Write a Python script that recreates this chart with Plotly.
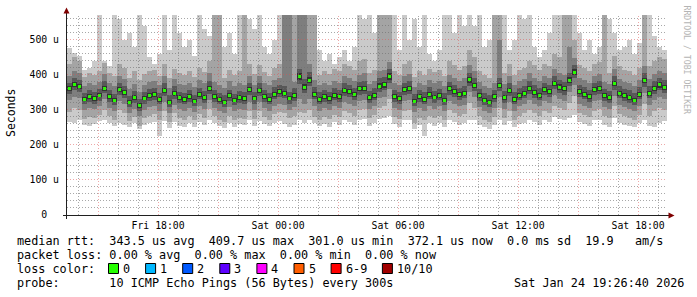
import math
import pandas as pd
import plotly.graph_objects as go

# ---------------- data (values in microseconds) ----------------
start = pd.Timestamp("2026-01-23 13:26:40")
end = pd.Timestamp("2026-01-24 19:26:40")
step = pd.Timedelta(minutes=15)

median = [360,372,368,330,338,333,342,362,338,328, 358,350,322,335,312,333,340,344,330,356,
          322,348,335,330,338,325,345,335,362,338, 330,322,340,328,335,332,358,333,356,338,
          330,345,352,348,333,340,395,365,385,345, 330,338,332,342,338,356,352,343,360,362,
          335,342,368,372,395,338,332,358,362,325, 338,330,345,336,342,328,360,352,343,348,
          386,370,340,328,322,338,370,335,355,330, 342,348,362,350,342,358,352,376,365,360,
          385,408,352,345,338,358,362,340,335,375, 348,340,336,328,345,384,348,362,372,365]

ping1 = [265,262,270,258,255,260,268,272,262,255, 262,258,250,262,245,258,262,266,225,268,
         248,265,255,252,262,250,265,256,270,262, 255,248,262,252,260,256,270,255,268,260,
         255,264,268,260,250,258,270,262,272,262, 255,260,252,265,258,270,266,258,272,275,
         255,262,275,278,282,260,252,270,272,245, 258,226,262,255,262,250,272,266,258,262,
         272,270,258,250,245,258,272,256,268,252, 260,264,272,265,258,270,266,280,275,272,
         278,285,266,260,255,270,272,258,252,278, 262,258,255,250,262,270,255,250,262,268]
ping2 = [295,305,300,275,280,276,285,300,282,272, 300,292,268,280,255,276,284,288,272,298,
         265,290,278,272,282,270,288,278,302,282, 272,265,282,270,278,275,298,275,296,280,
         272,288,294,290,276,282,295,290,300,280, 272,280,275,285,280,296,292,284,300,302,
         278,285,305,310,330,280,275,298,300,262, 278,270,282,276,282,270,300,292,284,288,
         320,305,282,270,265,280,305,276,296,272, 284,290,300,290,282,298,292,312,305,300,
         320,340,292,286,280,298,302,282,276,312, 288,282,278,270,285,318,282,298,305,300]
ping3 = [328,338,335,300,305,302,310,330,306,298, 325,318,292,303,282,300,308,312,296,322,
         290,315,303,298,305,294,312,302,328,306, 298,290,308,296,302,300,324,300,322,305,
         298,312,318,315,300,308,330,318,330,312, 298,306,300,310,305,322,318,310,326,328,
         302,310,334,338,360,305,300,325,328,294, 305,298,312,302,310,296,326,318,310,315,
         350,336,308,296,290,305,336,302,322,298, 310,316,328,318,310,325,320,342,332,326,
         350,372,318,312,305,325,328,308,302,340, 315,308,302,296,312,348,315,328,338,332]
ping4 = [345,356,352,316,322,318,326,347,323,313, 342,334,308,320,298,318,325,328,316,340,
         308,332,320,316,323,311,330,320,345,323, 316,309,325,314,320,318,342,318,340,324,
         316,330,336,333,318,325,374,348,368,330, 316,324,318,327,323,340,337,328,344,346,
         320,327,352,356,378,323,318,342,346,311, 323,316,330,321,327,314,344,337,328,333,
         369,354,325,314,308,323,354,320,340,316, 327,333,346,335,327,342,337,360,349,344,
         368,390,337,330,323,342,346,325,320,358, 333,325,321,314,330,366,333,346,356,349]
ping5 = [353,366,360,325,331,326,336,355,332,322, 351,344,316,329,306,327,333,338,323,349,
         316,341,329,324,331,319,338,329,355,331, 324,316,333,322,329,325,351,327,349,331,
         324,338,345,341,327,333,386,357,376,338, 324,331,326,335,331,349,345,337,353,355,
         329,335,360,364,386,331,326,351,355,319, 331,324,338,330,335,322,353,345,337,341,
         377,362,333,322,316,331,362,329,348,324, 335,341,355,343,335,351,345,368,357,353,
         376,399,345,338,331,351,355,333,329,367, 341,333,329,322,338,376,341,355,364,358]
ping6 = [367,379,375,337,345,340,349,369,345,335, 365,357,329,342,319,340,347,351,337,363,
         329,355,342,337,345,332,352,342,369,345, 337,329,347,335,342,339,365,340,363,345,
         337,352,359,355,340,347,404,373,394,352, 337,345,339,349,345,363,359,350,367,369,
         342,349,376,380,404,345,339,365,369,332, 345,337,352,343,349,335,367,359,350,355,
         395,378,347,335,329,345,378,342,362,337, 349,355,369,357,349,365,359,384,373,367,
         394,417,359,352,345,365,369,347,342,383, 355,347,343,335,352,392,355,369,380,372]
ping7 = [378,392,386,348,356,352,360,382,356,346, 378,368,340,353,332,351,360,362,348,376,
         342,367,352,349,356,344,364,354,382,357, 348,342,358,346,355,351,378,352,376,356,
         349,365,372,368,352,362,418,388,408,365, 350,356,352,362,357,376,372,362,380,384,
         355,362,390,395,418,357,351,378,382,345, 357,350,365,355,361,347,381,372,362,368,
         406,392,360,347,342,357,392,354,376,350, 362,368,382,370,362,378,372,398,386,380,
         406,428,372,365,357,378,382,360,355,396, 368,360,356,348,365,405,368,382,392,386]
ping8 = [398,410,405,368,376,372,380,402,376,368, 398,388,360,375,352,372,380,384,370,396,
         362,388,375,372,378,365,386,376,404,380, 372,362,382,368,376,372,398,372,396,378,
         370,386,392,600,600,380,600,600,430,386, 370,378,372,384,378,396,392,382,400,404,
         375,382,410,414,436,378,372,398,402,366, 378,370,386,376,382,368,400,392,382,390,
         428,410,380,368,362,378,500,375,396,370, 382,388,404,390,382,398,392,418,406,400,
         480,448,392,385,378,398,402,380,375,416, 388,380,376,368,385,424,388,402,412,405]
ping9 = [430,450,440,395,405,400,412,435,405,398, 430,420,392,410,385,402,412,415,398,430,
         392,418,405,400,410,395,420,408,440,600, 600,392,415,400,410,600,432,402,428,408,
         398,420,430,600,600,600,600,600,600,600, 400,410,402,418,410,430,425,415,440,445,
         405,415,600,600,600,410,400,430,440,395, 410,400,418,408,415,398,440,428,415,425,
         470,450,410,400,392,600,600,405,430,400, 415,420,440,428,415,432,425,460,450,600,
         600,500,428,420,410,432,438,600,405,455, 425,415,410,400,420,600,425,440,452,445]
ping10 = [477,463,455,415,420,440,600,440,425,600, 560,500,520,480,600,540,450,430,460,600,
          470,600,520,480,500,455,600,530,510,600, 600,480,520,460,600,600,560,530,600,480,
          460,500,600,600,600,600,600,600,600,600, 470,440,460,430,450,470,440,480,600,560,
          600,520,600,600,600,600,470,600,500,560, 480,600,460,440,470,600,600,520,600,540,
          600,540,600,480,500,600,600,600,470,500, 600,560,600,480,450,470,520,600,600,600,
          600,600,520,470,500,460,480,600,560,520, 470,480,500,460,490,600,600,510,480,470]

x_tick_vals = ["2026-01-23 18:00", "2026-01-24 00:00", "2026-01-24 06:00",
               "2026-01-24 12:00", "2026-01-24 18:00"]
x_tick_text = ["Fri 18:00", "Sat 00:00", "Sat 06:00", "Sat 12:00", "Sat 18:00"]
y_tick_vals = [0, 100, 200, 300, 400, 500]
y_tick_text = ["0\u00a0\u00a0", "100\u00a0u", "200\u00a0u", "300\u00a0u", "400\u00a0u", "500\u00a0u"]

median_rtt = ["343.5 us avg", "409.7 us max", "301.0 us min", "372.1 us now", "0.0 ms sd", "19.9   am/s"]
packet_loss = ["0.00 % avg", "0.00 % max", "0.00 % min", "0.00 % now"]
loss_labels = ["0", "1", "2", "3", "4", "5", "6-9", "10/10"]
loss_colors = ["#26ff00", "#00b8ff", "#0059ff", "#5e00ff", "#ff00ff", "#ff5e00", "#ff0000", "#a10000"]
probe_text = "10 ICMP Echo Pings (56 Bytes) every 300s"
stamp_text = "Sat Jan 24 19:26:40 2026"

# ---------------- geometry ----------------
W, H = 697, 297
L, R, T, B = 67, 667, 15, 215
Y_MAX = 571.0
MONO = "DejaVu Sans Mono"
MINOR = "rgba(110,110,110,0.6)"
MAJOR = "rgba(222,81,81,0.5)"

def px_x(px):
    return (px - L) / (R - L)

def px_y(py):
    return (B - py) / (B - T)

def t_to_px(t):
    return L + (t - start) / (end - start) * (R - L)

def v_to_py(v):
    return B - v / Y_MAX * (B - T)

n = len(median)
step_ms = step / pd.Timedelta(milliseconds=1)
centers = [start + step * (i + 0.5) for i in range(n)]

fig = go.Figure()
bands = [(ping1, ping10, "#cacaca"), (ping2, ping9, "#a4a4a4"), (ping3, ping8, "#7e7e7e"),
         (ping4, ping7, "#585858"), (ping5, ping6, "#323232")]
for lo, hi, col in bands:
    fig.add_trace(go.Bar(x=centers, y=[h - l for l, h in zip(lo, hi)], base=lo,
                         width=step_ms, marker=dict(color=col, line=dict(width=0)),
                         hoverinfo="skip", showlegend=False))
fig.add_trace(go.Bar(x=centers, y=[8.6] * n, base=[m - 4.3 for m in median],
                     width=step_ms * 0.6, marker=dict(color=loss_colors[0], line=dict(width=0)),
                     hoverinfo="skip", showlegend=False))

shapes = []
# grid (drawn above the smoke, like rrdtool)
hours = pd.date_range(start.ceil("h"), end, freq="h")
for h in hours:
    if h >= end:
        continue
    px = math.floor(t_to_px(h)) + 0.5
    major = h.hour % 3 == 0
    shapes.append(dict(type="line", xref="paper", yref="paper", x0=px_x(px), x1=px_x(px),
                       y0=px_y(215), y1=px_y(15),
                       line=dict(color=MAJOR if major else MINOR, width=1, dash="1px,2px"), layer="above"))
for v in range(20, int(Y_MAX), 20):
    py = math.floor(v_to_py(v)) + 0.5
    major = v % 100 == 0
    shapes.append(dict(type="line", xref="paper", yref="paper", x0=0, x1=1, y0=px_y(py), y1=px_y(py),
                       line=dict(color=MAJOR if major else MINOR, width=1, dash="1px,2px"), layer="above"))
# axes and arrows
shapes.append(dict(type="line", xref="paper", yref="paper", x0=px_x(63), x1=px_x(670),
                   y0=px_y(215.5), y1=px_y(215.5), line=dict(color="#202020", width=1), layer="above"))
shapes.append(dict(type="line", xref="paper", yref="paper", x0=px_x(66.5), x1=px_x(66.5),
                   y0=px_y(219), y1=px_y(12), line=dict(color="#202020", width=1), layer="above"))
def tri(pts):
    return "M " + " L ".join(f"{px_x(a)},{px_y(b)}" for a, b in pts) + " Z"
shapes.append(dict(type="path", xref="paper", yref="paper", path=tri([(63.5, 13.5), (69.5, 13.5), (66.5, 7.5)]),
                   fillcolor="#7f0000", line=dict(width=0), layer="above"))
shapes.append(dict(type="path", xref="paper", yref="paper", path=tri([(668.5, 212.5), (668.5, 218.5), (674.5, 215.5)]),
                   fillcolor="#7f0000", line=dict(width=0), layer="above"))

annotations = []
def text(px, py, s, size=11.8, color="black", anchor="left", angle=0):
    annotations.append(dict(xref="paper", yref="paper", x=px_x(px), y=px_y(py), text=s.replace(" ", "\u00a0"),
                            showarrow=False, xanchor=anchor, yanchor="middle", textangle=angle,
                            borderpad=0, font=dict(family=MONO, size=size, color=color)))

X0 = 15.5
text(X0, 241, "median rtt:  " + "  ".join(median_rtt))
text(X0, 255, "packet loss: " + "  ".join(packet_loss))
text(X0, 268.5, "loss color:")
text(X0, 283, "probe:       " + probe_text)
text(513, 283, stamp_text)
sx = 108
for lab, col in zip(loss_labels, loss_colors):
    shapes.append(dict(type="rect", xref="paper", yref="paper", x0=px_x(sx + 0.5), x1=px_x(sx + 10.5),
                       y0=px_y(263.5), y1=px_y(273.5), fillcolor=col, line=dict(color="black", width=1)))
    text(sx + 14, 268.5, lab)
    sx += 15 + 7.1 * len(lab) + 15
text(11, 113, "Seconds", size=11.5, angle=-90, anchor="center")
text(686.5, 60, "RRDTOOL / TOBI OETIKER", size=8.2, color="#b4b4b4", anchor="center", angle=90)

fig.update_layout(
    width=W, height=H, autosize=False,
    margin=dict(l=L, r=W - R, t=T, b=H - B, pad=0),
    paper_bgcolor="white", plot_bgcolor="white",
    barmode="overlay", bargap=0, showlegend=False,
    shapes=shapes, annotations=annotations,
    xaxis=dict(type="date", range=[start, end], tickmode="array", tickvals=x_tick_vals, ticktext=x_tick_text,
               showgrid=False, zeroline=False, showline=False, ticks="", ticklen=0, ticklabelstandoff=3,
               tickfont=dict(family=MONO, size=9.8, color="black"), fixedrange=True),
    yaxis=dict(range=[0, Y_MAX], tickmode="array", tickvals=y_tick_vals, ticktext=y_tick_text,
               showgrid=False, zeroline=False, showline=False, ticks="", ticklen=0, ticklabelstandoff=7,
               tickfont=dict(family=MONO, size=9.8, color="black"), fixedrange=True),
)

fig.write_html("out.html", config={"displayModeBar": False})
